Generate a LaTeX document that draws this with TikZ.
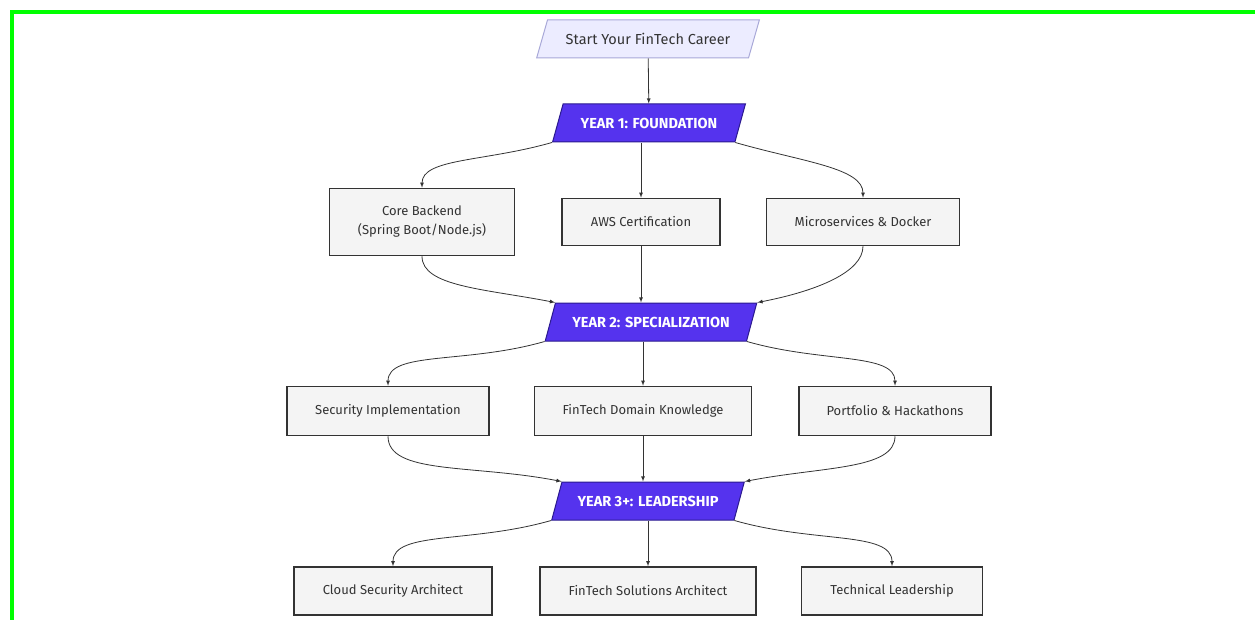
\documentclass[tikz,border=0pt]{standalone}
\usepackage{fontspec}
\setmainfont{Fira Sans}
\usetikzlibrary{shapes.geometric,calc}

\definecolor{framegreen}{HTML}{00FF00}
\definecolor{boxfill}{HTML}{F4F4F4}
\definecolor{boxline}{HTML}{333333}
\definecolor{phasefill}{HTML}{5533EE}
\definecolor{phaseline}{HTML}{2B1A8F}
\definecolor{startfill}{HTML}{ECECFF}
\definecolor{startline}{HTML}{A8A8D8}
\definecolor{linkgray}{HTML}{333333}

\begin{document}
\begin{tikzpicture}[x=1pt, y=1pt, >=latex,
    box/.style={draw=boxline, fill=boxfill, line width=1.5pt, minimum height=48pt,
      font=\fontsize{13}{19}\selectfont, text=boxline, align=center},
    slanted/.style={trapezium, trapezium stretches=true, trapezium left angle=63,
      trapezium right angle=117, minimum height=38pt, line width=1pt},
    phase/.style={slanted, draw=phaseline, fill=phasefill, text=white,
      font=\fontsize{14.5}{16}\selectfont\bfseries},
    flow/.style={->, draw=linkgray, line width=0.8pt},
    fanleft/.style={flow, out=196, in=90, out looseness=1.3, in looseness=0.55},
    fanright/.style={flow, out=-16, in=90, out looseness=1.3, in looseness=0.55},
    joinleft/.style={flow, out=-90, in=169, out looseness=0.55, in looseness=1.3},
    joinright/.style={flow, out=-90, in=11, out looseness=0.55, in looseness=1.3}]
    \useasboundingbox (0,0) rectangle (1255,-620);
    % frame
    \draw[framegreen, line width=4pt] (12,-620) -- (12,-12) -- (1255,-12);

    \node[slanted, draw=startline, fill=startfill, text=boxline, minimum width=223pt,
      font=\fontsize{14.5}{16}\selectfont] (start) at (648,-39) {Start Your FinTech Career};

    \node[phase, minimum width=193pt] (yearone) at (649,-123) {YEAR 1: FOUNDATION};
    \node[box, minimum width=185pt, minimum height=67pt] (core) at (422,-222) {Core Backend\\(Spring Boot/Node.js)};
    \node[box, minimum width=158pt, minimum height=47pt] (aws) at (641,-222) {AWS Certification};
    \node[box, minimum width=193pt, minimum height=47pt] (micro) at (863,-222) {Microservices \& Docker};

    \node[phase, minimum width=212pt] (yeartwo) at (651,-322) {YEAR 2: SPECIALIZATION};
    \node[box, minimum width=202pt, minimum height=49pt] (secimpl) at (388,-411) {Security Implementation};
    \node[box, minimum width=217pt, minimum height=49pt] (domain) at (643,-411) {FinTech Domain Knowledge};
    \node[box, minimum width=192pt, minimum height=49pt] (portfolio) at (895,-411) {Portfolio \& Hackathons};

    \node[phase, minimum width=193pt] (yearthree) at (648,-501) {YEAR 3+: LEADERSHIP};
    \node[box, minimum width=198pt] (cloudarch) at (393,-591) {Cloud Security Architect};
    \node[box, minimum width=216pt] (solarch) at (648,-591) {FinTech Solutions Architect};
    \node[box, minimum width=181pt] (techlead) at (892,-591) {Technical Leadership};

    % links
    \draw[flow] (start) -- (yearone);

    \draw[fanleft] (yearone.bottom left corner) to (core.north);
    \draw[flow] (yearone.south -| aws.north) -- (aws.north);
    \draw[fanright] (yearone.bottom right corner) to (micro.north);
    \draw[joinleft] (core.south) to (yeartwo.top left corner);
    \draw[flow] (aws.south) -- (yeartwo.north -| aws.south);
    \draw[joinright] (micro.south) to (yeartwo.top right corner);

    \draw[fanleft] (yeartwo.bottom left corner) to (secimpl.north);
    \draw[flow] (yeartwo.south -| domain.north) -- (domain.north);
    \draw[fanright] (yeartwo.bottom right corner) to (portfolio.north);
    \draw[joinleft] (secimpl.south) to (yearthree.top left corner);
    \draw[flow] (domain.south) -- (yearthree.north -| domain.south);
    \draw[joinright] (portfolio.south) to (yearthree.top right corner);

    \draw[fanleft] (yearthree.bottom left corner) to (cloudarch.north);
    \draw[flow] (yearthree.south -| solarch.north) -- (solarch.north);
    \draw[fanright] (yearthree.bottom right corner) to (techlead.north);
  \end{tikzpicture}
\end{document}
